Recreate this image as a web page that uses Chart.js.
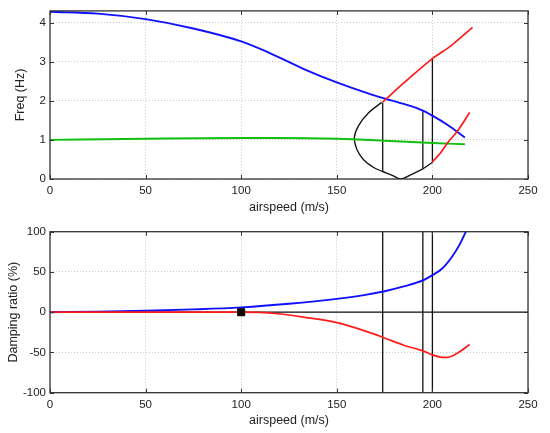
<!DOCTYPE html>
<html>
<head>
<meta charset="utf-8">
<script src="https://cdn.jsdelivr.net/npm/chart.js@4.4.1/dist/chart.umd.min.js"></script>
<style>
  body { margin: 0; background: #fff; }
  canvas { position: absolute; left: 0; }
  #graficoFreq { top: 0; }
  #graficoDamping { top: 215px; }
</style>
</head>
<body>
<canvas id="graficoFreq" width="550" height="215"></canvas>
<canvas id="graficoDamping" width="550" height="218"></canvas>
<script>
// eixo x (m/s)
var airspeedMin = 0, airspeedMax = 250, airspeedStep = 50;

// Freq (Hz) - modo azul
var blueSpeed = [0, 25, 50, 75, 100, 115, 132.5, 150, 167.5, 175, 185, 195, 200, 208, 217];
var blueFreq = [4.28, 4.23, 4.09, 3.85, 3.52, 3.22, 2.82, 2.47, 2.17, 2.06, 1.92, 1.75, 1.62, 1.38, 1.06];

// Freq - modo verde
var greenSpeed = [0, 50, 100, 118, 150, 175, 200, 217];
var greenFreq = [1.0, 1.03, 1.05, 1.05, 1.03, 0.98, 0.92, 0.89];

// Freq - ramos vermelhos
var redUpSpeed = [174, 187, 200, 210, 221];
var redUpFreq = [1.97, 2.54, 3.08, 3.42, 3.88];
var redLowSpeed = [200, 204, 208, 213, 219.5];
var redLowFreq = [0.44, 0.65, 0.93, 1.22, 1.7];

// contorno preto
var lensSpeed = [173.5, 166.5, 161.3, 159.2, 160.4, 163.9, 169.1, 173.5, 178.7, 183.4, 189.2, 195, 200.2];
var lensFreq = [1.96, 1.69, 1.36, 1.06, 0.77, 0.5, 0.3, 0.2, 0.1, 0.0, 0.12, 0.26, 0.43];

// linhas verticais
var vertSpeed = [174, 195, 200];
var vertFreqTop = [1.96, 1.75, 3.08];
var vertFreqBottom = [0.2, 0.26, 0.44];

// Damping ratio (%)
var blueDampSpeed = [0, 25, 50, 75, 100, 125, 150, 165, 175, 185, 195, 200, 205, 210, 214, 217.5];
var blueDamp = [0, 0.7, 1.8, 3.5, 6, 10.5, 16.6, 21.5, 26, 32, 39.5, 46, 54, 68, 83, 100];
var redDampSpeed = [0, 50, 100, 118, 135, 150, 165, 175, 185, 195, 200, 205, 208, 213, 219.5];
var redDamp = [0, 0, 0, -1.6, -7, -13, -23.5, -32, -41, -48, -53, -56, -56, -51, -40];
var zeroSpeed = [0, 250];
var zeroDamp = [0, 0];
var markerSpeed = [100];
var markerDamp = [0];

function pontos(xs, ys) {
    return xs.map(function (x, i) { return { x: x, y: ys[i] }; });
}

var fonte = "'Liberation Sans', Arial, sans-serif";

var caixa = {
    id: 'caixa',
    afterDraw: function (chart) {
        var ctx = chart.ctx, a = chart.chartArea;
        var sx = chart.scales.x, sy = chart.scales.y;
        ctx.save();
        ctx.strokeStyle = '#333';
        ctx.lineWidth = 1;
        ctx.beginPath();
        sx.ticks.forEach(function (t) {
            var px = Math.round(sx.getPixelForValue(t.value)) + 0.5;
            ctx.moveTo(px, a.bottom); ctx.lineTo(px, a.bottom - 4);
            ctx.moveTo(px, a.top); ctx.lineTo(px, a.top + 4);
        });
        sy.ticks.forEach(function (t) {
            var py = Math.round(sy.getPixelForValue(t.value)) + 0.5;
            ctx.moveTo(a.left, py); ctx.lineTo(a.left + 4, py);
            ctx.moveTo(a.right, py); ctx.lineTo(a.right - 4, py);
        });
        ctx.stroke();
        ctx.lineWidth = 1.3;
        ctx.strokeRect(a.left, a.top, a.right - a.left, a.bottom - a.top);
        ctx.restore();
    }
};

function eixos(yMin, yMax, yStep, yTitulo, tituloPad, xAltura, xTituloPad) {
    return {
        x: {
            type: 'linear', min: airspeedMin, max: airspeedMax,
            ticks: { stepSize: airspeedStep, padding: 5, color: '#222', font: { family: fonte, size: 11.5 } },
            grid: { color: '#c8c8c8', drawTicks: false },
            border: { display: false, dash: [1, 2] },
            title: { display: true, text: 'airspeed (m/s)', color: '#222', font: { family: fonte, size: 12.5 }, padding: { top: 0, bottom: xTituloPad } },
            afterFit: function (s) { s.height = xAltura; }
        },
        y: {
            type: 'linear', min: yMin, max: yMax,
            ticks: { stepSize: yStep, padding: 4, includeBounds: false, color: '#222', font: { family: fonte, size: 11.5 } },
            grid: { color: '#c8c8c8', drawTicks: false },
            border: { display: false, dash: [1, 2] },
            title: { display: true, text: yTitulo, color: '#222', font: { family: fonte, size: 12.5 }, padding: { top: tituloPad, bottom: 0 } },
            afterFit: function (s) { s.width = 50; }
        }
    };
}

function linha(xs, ys, cor, largura, ordem, suave) {
    return {
        data: pontos(xs, ys),
        showLine: true,
        borderColor: cor,
        borderWidth: largura,
        pointRadius: 0,
        cubicInterpolationMode: suave ? 'monotone' : 'default',
        tension: suave ? 0 : 0.3,
        order: ordem
    };
}

// Gráfico de frequência
var dsFreq = [
    linha(redUpSpeed, redUpFreq, '#ff1a1a', 1.7, 1, true),
    linha(redLowSpeed, redLowFreq, '#ff1a1a', 1.7, 1, true),
    linha(blueSpeed, blueFreq, '#1010ff', 1.9, 2, true),
    linha(greenSpeed, greenFreq, '#10c010', 1.9, 3, true),
    linha(lensSpeed, lensFreq, '#111', 1.3, 4, false)
];
vertSpeed.forEach(function (v, i) {
    dsFreq.push(linha([v, v], [vertFreqBottom[i], vertFreqTop[i]], '#111', 1.3, 4, false));
});

new Chart(document.getElementById('graficoFreq'), {
    type: 'scatter',
    data: { datasets: dsFreq },
    options: {
        responsive: false,
        animation: false,
        layout: { padding: { left: 0, right: 22, top: 10, bottom: 0 } },
        plugins: { legend: { display: false }, tooltip: { enabled: false } },
        scales: eixos(0, 4.3, 1, 'Freq (Hz)', 13, 36, 0)
    },
    plugins: [caixa]
});

// Gráfico de amortecimento
var dsDamp = [
    {
        data: pontos(markerSpeed, markerDamp),
        pointStyle: 'rect', pointRadius: 5, pointBackgroundColor: '#000',
        pointBorderColor: '#000', pointBorderWidth: 1, showLine: false, order: 0
    },
    linha(redDampSpeed, redDamp, '#ff1a1a', 1.7, 1, true),
    linha(blueDampSpeed, blueDamp, '#1010ff', 1.9, 2, true),
    linha(zeroSpeed, zeroDamp, '#111', 1.2, 3, false)
];
vertSpeed.forEach(function (v) {
    dsDamp.push(linha([v, v], [-100, 100], '#111', 1.3, 3, false));
});

new Chart(document.getElementById('graficoDamping'), {
    type: 'scatter',
    data: { datasets: dsDamp },
    options: {
        responsive: false,
        animation: false,
        layout: { padding: { left: 0, right: 22, top: 16.7, bottom: 0 } },
        plugins: { legend: { display: false }, tooltip: { enabled: false } },
        scales: eixos(-100, 100, 50, 'Damping ratio (%)', 6, 40.3, 5)
    },
    plugins: [caixa]
});
</script>
</body>
</html>
